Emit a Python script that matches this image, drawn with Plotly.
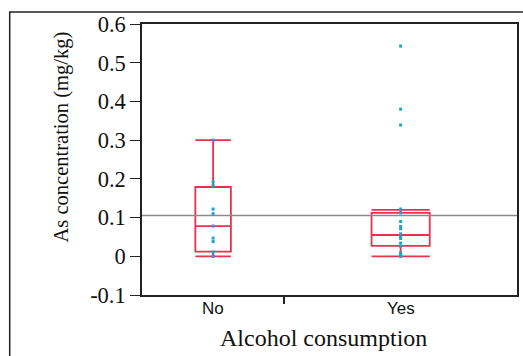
import plotly.graph_objects as go

# Group labels (axis width of each group is proportional to its sample size)
groups = ["No", "Yes"]

# Individual As concentrations (mg/kg) for each group
no_values = [0.300, 0.192, 0.183, 0.122, 0.110, 0.078, 0.047, 0.038, 0.011, 0.000, 0.000]
yes_values = [0.543, 0.380, 0.339, 0.122, 0.112, 0.090, 0.077, 0.071, 0.058, 0.050,
              0.046, 0.034, 0.026, 0.009, 0.005, 0.003, 0.000, 0.000]

# Box summary statistics per group
q1 = [0.012, 0.027]
median = [0.078, 0.055]
q3 = [0.179, 0.112]
lower_fence = [0.000, 0.000]
upper_fence = [0.300, 0.120]

y_ticks = [-0.1, 0, 0.1, 0.2, 0.3, 0.4, 0.5, 0.6]
y_tick_text = ["-0.1", "0", "0.1", "0.2", "0.3", "0.4", "0.5", "0.6"]

RED = "#E8334C"
BLUE = "#1BA3D8"
FRAME = "#222222"

W, H = 523, 356
L, R, T, B = 142, 4, 24, 61
plot_w = W - L - R
plot_h = H - T - B

values = [no_values, yes_values]
sizes = [len(v) for v in values]
total = sum(sizes)
edges = [0]
for n in sizes:
    edges.append(edges[-1] + n)
centers = [(edges[i] + edges[i + 1]) / 2 for i in range(len(groups))]
all_vals = no_values + yes_values
grand_mean = sum(all_vals) / len(all_vals)

fig = go.Figure()

# Grand mean reference line
fig.add_trace(go.Scatter(
    x=[0, total], y=[grand_mean, grand_mean], mode="lines",
    line=dict(color="#8a8a8a", width=1.5), hoverinfo="skip", showlegend=False,
))

# Box plots, each box a quarter of its group's width
for i, g in enumerate(groups):
    fig.add_trace(go.Box(
        x=[centers[i]], q1=[q1[i]], median=[median[i]], q3=[q3[i]],
        lowerfence=[lower_fence[i]], upperfence=[upper_fence[i]],
        width=0.25 * sizes[i], whiskerwidth=1,
        line=dict(color=RED, width=1.8), fillcolor="rgba(0,0,0,0)",
        boxpoints=False, name=g, showlegend=False,
    ))

# Raw observations
for i, g in enumerate(groups):
    fig.add_trace(go.Scatter(
        x=[centers[i]] * len(values[i]), y=values[i], mode="markers",
        marker=dict(symbol="square", size=3, color=BLUE, line=dict(width=0)),
        showlegend=False, name=g,
    ))

def px_x(p):
    return (p - L) / plot_w

def px_y(p):
    return (H - B - p) / plot_h

annotations = []
for i, g in enumerate(groups):
    annotations.append(dict(
        x=centers[i], y=px_y(308), xref="x", yref="paper", text=g, showarrow=False,
        font=dict(family="Liberation Sans, Arial", size=17, color="#111"),
        xanchor="center", yanchor="middle",
    ))
annotations.append(dict(
    x=px_x(324), y=px_y(338), xref="paper", yref="paper", text="Alcohol consumption",
    showarrow=False, font=dict(family="Liberation Serif, Times New Roman", size=24, color="#111"),
    xanchor="center", yanchor="middle",
))
annotations.append(dict(
    x=px_x(61), y=px_y(137), xref="paper", yref="paper", text="As concentration (mg/kg)",
    showarrow=False, textangle=-90,
    font=dict(family="Liberation Serif, Times New Roman", size=20.5, color="#111"),
    xanchor="center", yanchor="middle",
))

# Outer panel border (left and top edges)
shapes = [dict(
    type="path", xref="paper", yref="paper",
    path=f"M {px_x(9)} {px_y(H + 2)} L {px_x(9)} {px_y(12)} L {px_x(W + 2)} {px_y(12)}",
    line=dict(color=FRAME, width=1.5),
)]

fig.update_layout(
    width=W, height=H,
    margin=dict(l=L, r=R, t=T, b=B, pad=0),
    paper_bgcolor="white", plot_bgcolor="white",
    annotations=annotations, shapes=shapes,
    xaxis=dict(
        range=[0, total], tickmode="array", tickvals=edges[1:-1],
        showticklabels=False, ticks="outside", ticklen=7, tickwidth=2, tickcolor=FRAME,
        showgrid=False, zeroline=False, showline=True, mirror=True,
        linecolor=FRAME, linewidth=1.5,
    ),
    yaxis=dict(
        range=[-0.1, 0.6], tickmode="array", tickvals=y_ticks, ticktext=y_tick_text,
        ticks="outside", ticklen=10, tickwidth=1.2, tickcolor=FRAME,
        tickfont=dict(family="Liberation Serif, Times New Roman", size=22.5, color="#111"),
        showgrid=False, zeroline=False, showline=True, mirror=True,
        linecolor=FRAME, linewidth=1.5,
    ),
)

fig.write_html("out.html")
